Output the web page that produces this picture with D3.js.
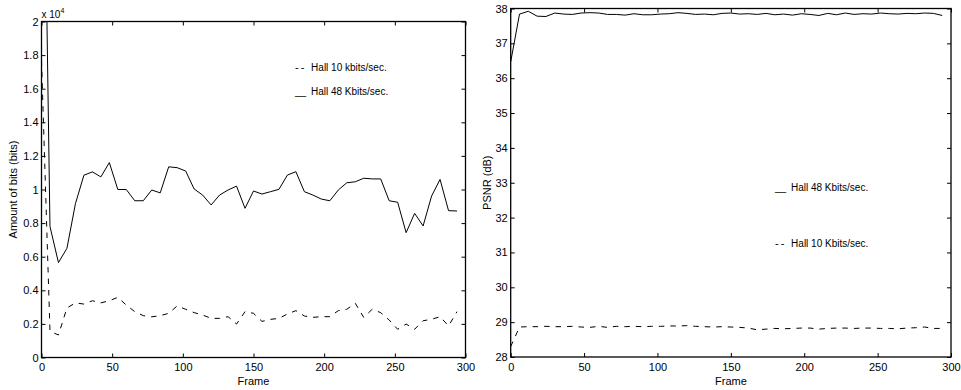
<!DOCTYPE html>
<html>
<head>
<meta charset="utf-8">
<script src="https://cdn.jsdelivr.net/npm/d3@7"></script>
<style>
  body { margin: 0; background: #fff; }
  svg { display: block; font-family: "Liberation Sans", Arial, Helvetica, sans-serif; }
</style>
</head>
<body>
<div id="chart"></div>
<script>
// frame index (every 6th frame)
const frames = [0, 6, 12, 18, 24, 30, 36, 42, 48, 54, 60, 66, 72, 78, 84, 90, 96, 102, 108, 114,
  120, 126, 132, 138, 144, 150, 156, 162, 168, 174, 180, 186, 192, 198, 204, 210, 216, 222, 228, 234,
  240, 246, 252, 258, 264, 270, 276, 282, 288, 294];

// amount of bits, Hall 48 Kbits/sec (solid)
const bits48 = [42000, 7800, 5650, 6500, 9150, 10850, 11050, 10750, 11600, 10000,
  10000, 9330, 9330, 9970, 9800, 11350, 11300, 11100, 10030, 9670,
  9080, 9670, 9970, 10200, 8880, 9910, 9730, 9870, 10010, 10860,
  11060, 9870, 9670, 9430, 9330, 9970, 10400, 10460, 10670, 10630,
  10630, 9330, 9240, 7430, 8580, 7830, 9610, 10600, 8740, 8720];

// amount of bits, Hall 10 kbits/sec (dashed)
const bits10 = [17700, 1560, 1340, 2950, 3250, 3180, 3380, 3250, 3380, 3580,
  3120, 2730, 2490, 2420, 2490, 2630, 3070, 2870, 2670, 2530,
  2330, 2330, 2430, 1990, 2730, 2630, 2150, 2270, 2330, 2590,
  2790, 2470, 2390, 2430, 2430, 2790, 2870, 3230, 2390, 2870,
  2670, 2230, 1680, 1990, 1680, 2190, 2270, 2430, 1880, 2730];

// PSNR, Hall 48 Kbits/sec (solid)
const psnr48 = [36.47, 37.84, 37.92, 37.78, 37.77, 37.87, 37.84, 37.83, 37.87, 37.88,
  37.87, 37.83, 37.83, 37.81, 37.85, 37.82, 37.82, 37.84, 37.85, 37.88,
  37.86, 37.83, 37.84, 37.82, 37.86, 37.87, 37.84, 37.85, 37.83, 37.86,
  37.82, 37.84, 37.81, 37.85, 37.83, 37.80, 37.86, 37.82, 37.87, 37.83,
  37.85, 37.84, 37.87, 37.85, 37.84, 37.86, 37.85, 37.87, 37.86, 37.80];

// PSNR, Hall 10 Kbits/sec (dashed)
const psnr10 = [28.30, 28.86, 28.87, 28.87, 28.88, 28.87, 28.87, 28.88, 28.86, 28.85,
  28.88, 28.85, 28.88, 28.87, 28.88, 28.87, 28.88, 28.88, 28.89, 28.89,
  28.90, 28.88, 28.87, 28.86, 28.87, 28.86, 28.85, 28.83, 28.78, 28.80,
  28.82, 28.81, 28.82, 28.83, 28.83, 28.80, 28.82, 28.83, 28.83, 28.82,
  28.83, 28.83, 28.82, 28.82, 28.81, 28.83, 28.84, 28.86, 28.82, 28.82];

const xTicks = [0, 50, 100, 150, 200, 250, 300];
const yTicksBits = [0, 2000, 4000, 6000, 8000, 10000, 12000, 14000, 16000, 18000, 20000];
const yTickLabelsBits = ["0", "0.2", "0.4", "0.6", "0.8", "1", "1.2", "1.4", "1.6", "1.8", "2"];
const yTicksPsnr = [28, 29, 30, 31, 32, 33, 34, 35, 36, 37, 38];

const W = 961, H = 390;
const svg = d3.select("#chart").append("svg")
  .attr("width", W).attr("height", H);
svg.append("rect").attr("width", W).attr("height", H).attr("fill", "#fff");

function panel(id, xr, yr, ydom, yticks, yfmt) {
  const x = d3.scaleLinear().domain([0, 300]).range(xr);
  const y = d3.scaleLinear().domain(ydom).range(yr);
  const g = svg.append("g");

  svg.append("clipPath").attr("id", id)
    .append("rect")
    .attr("x", xr[0]).attr("y", yr[1])
    .attr("width", xr[1] - xr[0]).attr("height", yr[0] - yr[1]);

  const style = a => a.call(s => s.select(".domain").remove())
    .call(s => s.selectAll("line").attr("stroke", "#000"))
    .call(s => s.selectAll("text").attr("fill", "#000").style("font-size", "11px")
      .style("font-family", "'Liberation Sans', Arial, sans-serif"));

  g.append("g").attr("transform", `translate(0,${yr[0]})`)
    .call(d3.axisBottom(x).tickValues(xTicks).tickSize(-4).tickPadding(6))
    .call(style);
  g.append("g").attr("transform", `translate(0,${yr[1]})`)
    .call(d3.axisTop(x).tickValues(xTicks).tickSize(-4).tickFormat(""))
    .call(style);
  g.append("g").attr("transform", `translate(${xr[0]},0)`)
    .call(d3.axisLeft(y).tickValues(yticks).tickSize(-4).tickPadding(3).tickFormat(yfmt))
    .call(style);
  g.append("g").attr("transform", `translate(${xr[1]},0)`)
    .call(d3.axisRight(y).tickValues(yticks).tickSize(-4).tickFormat(""))
    .call(style);

  g.append("rect")
    .attr("x", xr[0]).attr("y", yr[1])
    .attr("width", xr[1] - xr[0]).attr("height", yr[0] - yr[1])
    .attr("fill", "none").attr("stroke", "#000").attr("stroke-width", 1.3);

  return { x, y, g };
}

function drawLine(p, clipId, values, dashed) {
  const line = d3.line()
    .x((d, i) => p.x(frames[i]))
    .y(d => p.y(d));
  p.g.append("path")
    .datum(values)
    .attr("clip-path", `url(#${clipId})`)
    .attr("d", line)
    .attr("fill", "none")
    .attr("stroke", "#000")
    .attr("stroke-width", 1)
    .attr("stroke-dasharray", dashed ? "5.5,6" : null);
}

// left: amount of bits
const left = panel("clipL", [41.5, 465.5], [357.5, 21.5], [0, 20000], yTicksBits,
  (d, i) => yTickLabelsBits[i]);
drawLine(left, "clipL", bits48, false);
drawLine(left, "clipL", bits10, true);

// right: PSNR
const right = panel("clipR", [510.7, 951], [357, 8.5], [28, 38], yTicksPsnr, d3.format("d"));
drawLine(right, "clipR", psnr48, false);
drawLine(right, "clipR", psnr10, true);

// labels
const txt = (x, y, s, size, anchor) => svg.append("text")
  .attr("x", x).attr("y", y).attr("text-anchor", anchor || "start")
  .style("font-size", size + "px").attr("fill", "#000").text(s);

const exp = svg.append("text").attr("x", 41.5).attr("y", 17.5)
  .style("font-size", "10px").attr("fill", "#000");
exp.append("tspan").text("x 10");
exp.append("tspan").attr("dy", -5).style("font-size", "7px").text("4");

txt(253.5, 385, "Frame", 11, "middle");
txt(731, 385, "Frame", 11, "middle");

svg.append("text")
  .attr("transform", "translate(17,189.5) rotate(-90)")
  .attr("text-anchor", "middle").style("font-size", "11px").attr("fill", "#000")
  .text("Amount of bits (bits)");
svg.append("text")
  .attr("transform", "translate(491,182.7) rotate(-90)")
  .attr("text-anchor", "middle").style("font-size", "11px").attr("fill", "#000")
  .text("PSNR (dB)");

// in-plot legend text: marker characters then label
function legend(x, y, mark, label) {
  const t = svg.append("text").attr("x", x).attr("y", y)
    .style("font-size", "10px").attr("fill", "#000");
  if (mark === "--") {
    t.append("tspan").style("font-size", "11px").style("letter-spacing", "2px").text("--");
  } else {
    t.append("tspan").text("__");
  }
  t.append("tspan").attr("dx", 2).text(" " + label);
}
legend(295, 70.5, "--", "Hall 10 kbits/sec.");
legend(295, 95, "__", "Hall 48 Kbits/sec.");
legend(775, 191, "__", "Hall 48 Kbits/sec.");
legend(775, 247, "--", "Hall 10 Kbits/sec.");
</script>
</body>
</html>
